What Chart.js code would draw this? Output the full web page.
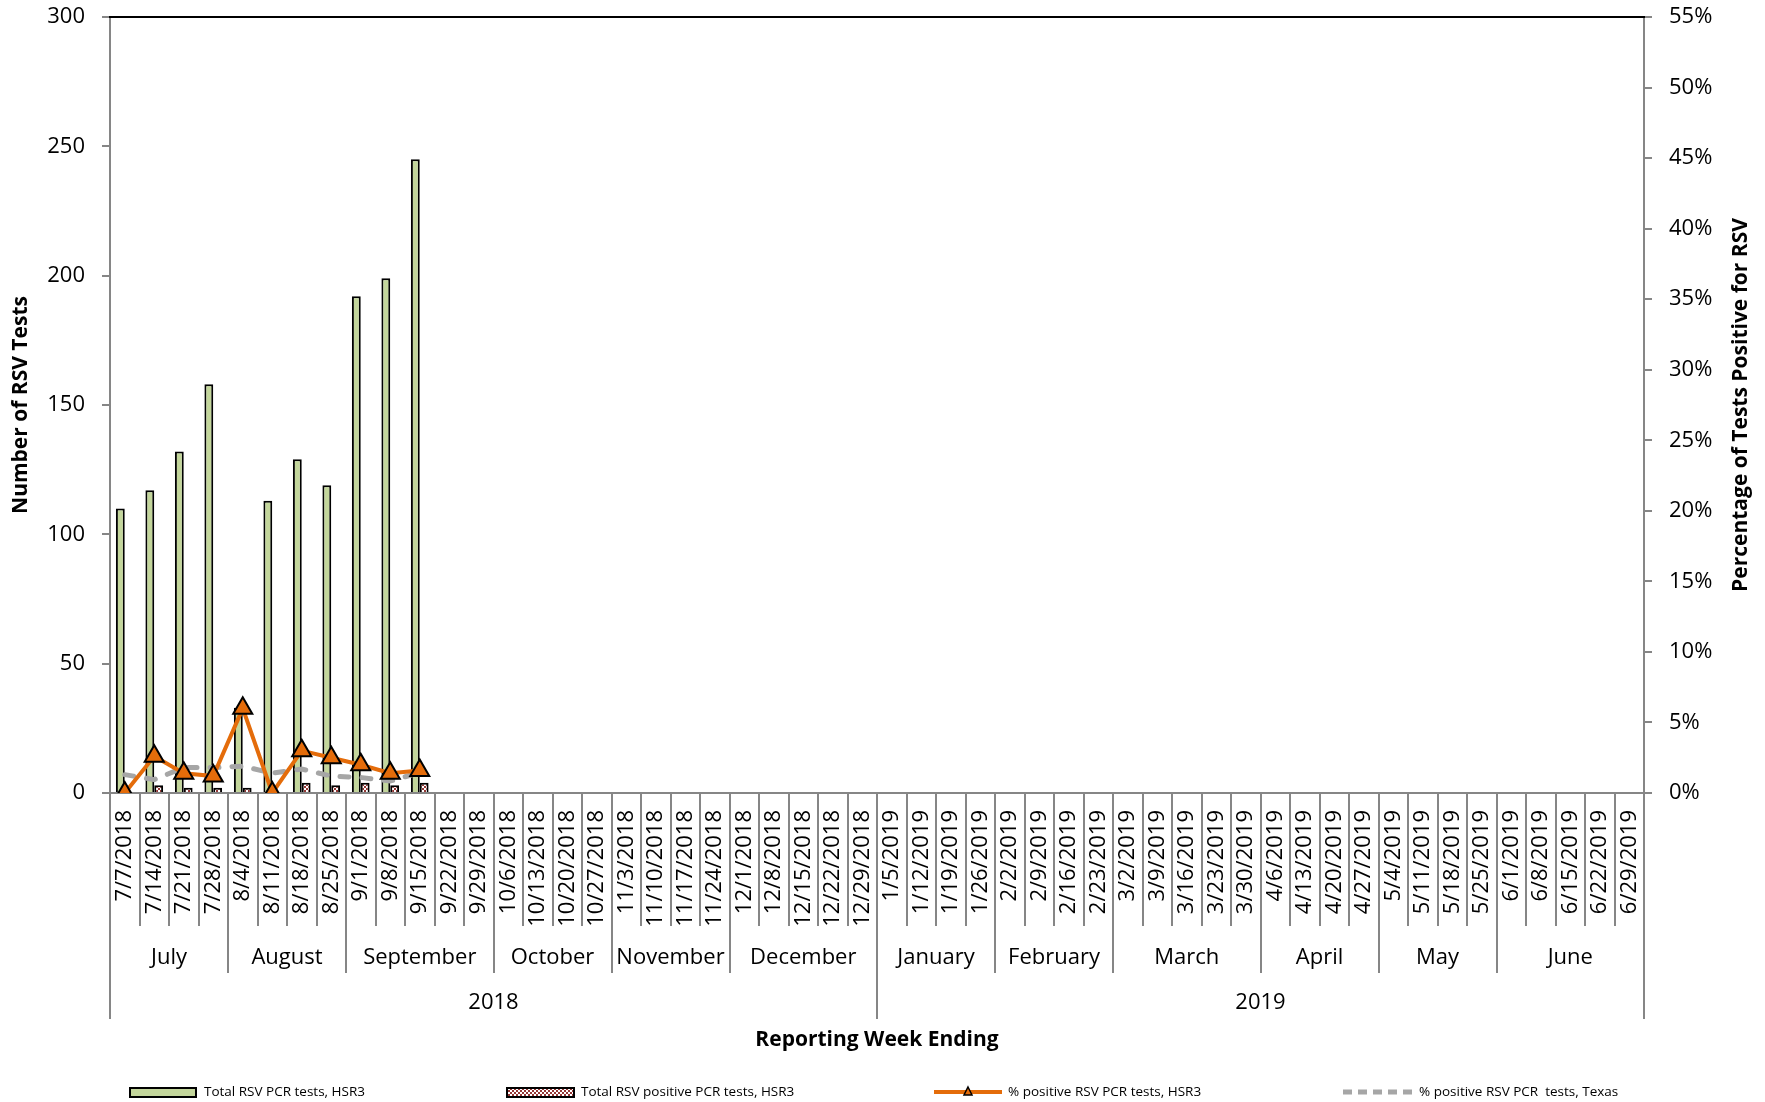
<!DOCTYPE html>
<html>
<head>
<meta charset="utf-8">
<title>RSV PCR tests, HSR3</title>
<script src="https://cdn.jsdelivr.net/npm/chart.js@4.4.1/dist/chart.umd.min.js"></script>
<style>
  html, body { margin: 0; padding: 0; background: #ffffff; }
  canvas { display: block; }
</style>
</head>
<body>
<canvas id="rsv" width="1765" height="1102"></canvas>
<script>
// Reporting weeks (week ending dates)
const weekLabels = [
  '7/7/2018','7/14/2018','7/21/2018','7/28/2018',
  '8/4/2018','8/11/2018','8/18/2018','8/25/2018',
  '9/1/2018','9/8/2018','9/15/2018','9/22/2018','9/29/2018',
  '10/6/2018','10/13/2018','10/20/2018','10/27/2018',
  '11/3/2018','11/10/2018','11/17/2018','11/24/2018',
  '12/1/2018','12/8/2018','12/15/2018','12/22/2018','12/29/2018',
  '1/5/2019','1/12/2019','1/19/2019','1/26/2019',
  '2/2/2019','2/9/2019','2/16/2019','2/23/2019',
  '3/2/2019','3/9/2019','3/16/2019','3/23/2019','3/30/2019',
  '4/6/2019','4/13/2019','4/20/2019','4/27/2019',
  '5/4/2019','5/11/2019','5/18/2019','5/25/2019',
  '6/1/2019','6/8/2019','6/15/2019','6/22/2019','6/29/2019'
];

// Month and year groupings of the weeks above
const monthNames = ['July','August','September','October','November','December',
                    'January','February','March','April','May','June'];
const monthWeekCounts = [4, 4, 5, 4, 4, 5, 4, 4, 5, 4, 4, 5];
const yearNames = ['2018', '2019'];
const yearWeekCounts = [26, 26];

// Weekly counts reported so far this season
const totalTests    = [110, 117, 132, 158, 33, 113, 129, 119, 192, 199, 245];
const positiveTests = [0, 3, 2, 2, 2, 0, 4, 3, 4, 3, 4];

// Percent positive
const pctPositiveHSR3  = [0, 2.6, 1.4, 1.2, 6.0, 0, 3.0, 2.5, 2.0, 1.4, 1.6];
const pctPositiveTexas = [1.3, 0.95, 1.8, 1.8, 1.9, 1.4, 1.7, 1.2, 1.1, 0.85, 1.45];

// Axis tick ranges
const countTicks = { min: 0, max: 300, step: 50 };
const pctTicks   = { min: 0, max: 55, step: 5 };

const FONT = "'Open Sans', 'Noto Sans', sans-serif";
const AXIS_GRAY = '#868686';
const GREEN = '#C3D69B';
const ORANGE = '#E46C0A';
const TEXAS_GRAY = '#A6A6A6';
const DARK_RED = '#953735';

// small checkered fill for the positive-test bars
function makeCheckerPattern(ctx) {
  const c = document.createElement('canvas');
  c.width = 4; c.height = 4;
  const p = c.getContext('2d');
  p.fillStyle = DARK_RED;
  p.fillRect(0, 0, 4, 4);
  p.fillStyle = '#ffffff';
  p.fillRect(0, 0, 2, 2);
  p.fillRect(2, 2, 2, 2);
  return ctx.createPattern(c, 'repeat');
}

const canvas = document.getElementById('rsv');
const ctx = canvas.getContext('2d');
const checker = makeCheckerPattern(ctx);

// keep the plot area exactly where the fixed-size axes put it
function noScalePadding(scale) {
  scale.paddingTop = 0;
  scale.paddingBottom = 0;
  scale.paddingLeft = 0;
  scale.paddingRight = 0;
}

// Draws the grouped category labels, separators, axis titles and legend
const decorations = {
  id: 'decorations',
  afterDraw(chart) {
    const g = chart.ctx;
    const area = chart.chartArea;
    const x = chart.scales.x;
    const n = weekLabels.length;
    const boundary = (i) => {
      if (i <= 0) return area.left;
      if (i >= n) return area.right;
      return (x.getPixelForTick(i - 1) + x.getPixelForTick(i)) / 2;
    };
    const axisY = area.bottom;
    const weekBottom = axisY + 133;
    const monthBottom = axisY + 180;
    const yearBottom = axisY + 226;

    g.save();

    // top edge of the plot area
    g.strokeStyle = '#000000';
    g.lineWidth = 2;
    g.beginPath();
    g.moveTo(area.left - 1, area.top);
    g.lineTo(area.right + 1, area.top);
    g.stroke();

    // separators between weeks, months and years
    const monthEdges = new Set();
    let acc = 0;
    monthWeekCounts.forEach(c => { acc += c; monthEdges.add(acc); });
    const yearEdges = new Set([0, n]);
    acc = 0;
    yearWeekCounts.forEach(c => { acc += c; yearEdges.add(acc); });

    g.strokeStyle = AXIS_GRAY;
    g.lineWidth = 2;
    for (let i = 0; i <= n; i++) {
      let bottom = weekBottom;
      if (monthEdges.has(i)) bottom = monthBottom;
      if (yearEdges.has(i)) bottom = yearBottom;
      const px = Math.round(boundary(i));
      g.beginPath();
      g.moveTo(px, axisY);
      g.lineTo(px, bottom);
      g.stroke();
    }

    g.fillStyle = '#000000';
    g.textAlign = 'center';
    g.textBaseline = 'middle';

    // month labels
    g.font = `22px ${FONT}`;
    acc = 0;
    monthNames.forEach((m, k) => {
      const a = boundary(acc), b = boundary(acc + monthWeekCounts[k]);
      g.fillText(m, (a + b) / 2, axisY + 165);
      acc += monthWeekCounts[k];
    });

    // year labels
    acc = 0;
    yearNames.forEach((yname, k) => {
      const a = boundary(acc), b = boundary(acc + yearWeekCounts[k]);
      g.fillText(yname, (a + b) / 2, axisY + 210);
      acc += yearWeekCounts[k];
    });

    // axis titles
    g.font = `bold 21px ${FONT}`;
    g.fillText('Reporting Week Ending', (area.left + area.right) / 2, axisY + 247);

    const midY = (area.top + area.bottom) / 2;
    g.save();
    g.translate(21, midY);
    g.rotate(-Math.PI / 2);
    g.fillText('Number of RSV Tests', 0, 0);
    g.restore();

    g.save();
    g.translate(1741, midY);
    g.rotate(-Math.PI / 2);
    g.fillText('Percentage of Tests Positive for RSV', 0, 0);
    g.restore();

    // legend
    const ly = 1092;
    g.font = `13.5px ${FONT}`;
    g.textAlign = 'left';
    g.textBaseline = 'middle';

    // total tests
    g.fillStyle = GREEN;
    g.fillRect(130, ly - 4, 66, 9);
    g.strokeStyle = '#000';
    g.lineWidth = 2;
    g.strokeRect(130, ly - 4, 66, 9);
    g.fillStyle = '#000';
    g.fillText(chart.data.datasets[0].label, 204, ly);

    // positive tests
    g.fillStyle = checker;
    g.fillRect(507, ly - 4, 67, 9);
    g.strokeStyle = '#000';
    g.strokeRect(507, ly - 4, 67, 9);
    g.fillStyle = '#000';
    g.fillText(chart.data.datasets[1].label, 581, ly);

    // HSR3 percent line
    g.strokeStyle = ORANGE;
    g.lineWidth = 4;
    g.beginPath();
    g.moveTo(934, ly);
    g.lineTo(1002, ly);
    g.stroke();
    g.fillStyle = ORANGE;
    g.strokeStyle = '#000';
    g.lineWidth = 1.5;
    g.beginPath();
    g.moveTo(968, ly - 5);
    g.lineTo(972, ly + 3);
    g.lineTo(964, ly + 3);
    g.closePath();
    g.fill();
    g.stroke();
    g.fillStyle = '#000';
    g.fillText(chart.data.datasets[2].label, 1008, ly);

    // Texas percent line
    g.strokeStyle = TEXAS_GRAY;
    g.lineWidth = 5;
    g.setLineDash([9, 6]);
    g.beginPath();
    g.moveTo(1343, ly);
    g.lineTo(1413, ly);
    g.stroke();
    g.setLineDash([]);
    g.fillStyle = '#000';
    g.fillText(chart.data.datasets[3].label, 1419, ly);

    g.restore();
  }
};

const tickFont = { family: FONT, size: 22 };

new Chart(ctx, {
  data: {
    labels: weekLabels,
    datasets: [
      {
        type: 'bar',
        label: 'Total RSV PCR tests, HSR3',
        data: totalTests,
        yAxisID: 'y',
        backgroundColor: GREEN,
        borderColor: '#000000',
        borderWidth: 2,
        categoryPercentage: 0.6,
        barPercentage: 1.0,
        order: 2
      },
      {
        type: 'bar',
        label: 'Total RSV positive PCR tests, HSR3',
        data: positiveTests,
        yAxisID: 'y',
        backgroundColor: checker,
        borderColor: '#000000',
        borderWidth: 2,
        categoryPercentage: 0.6,
        barPercentage: 1.0,
        order: 3
      },
      {
        type: 'line',
        label: '% positive RSV PCR tests, HSR3',
        data: pctPositiveHSR3,
        yAxisID: 'y1',
        borderColor: ORANGE,
        borderWidth: 4,
        tension: 0,
        pointStyle: 'triangle',
        pointRadius: 11,
        pointBackgroundColor: ORANGE,
        pointBorderColor: '#000000',
        pointBorderWidth: 2,
        order: 0
      },
      {
        type: 'line',
        label: '% positive RSV PCR  tests, Texas',
        data: pctPositiveTexas,
        yAxisID: 'y1',
        borderColor: TEXAS_GRAY,
        borderWidth: 5,
        borderDash: [9, 13],
        borderCapStyle: 'round',
        tension: 0,
        pointRadius: 0,
        order: 1
      }
    ]
  },
  options: {
    responsive: false,
    animation: false,
    devicePixelRatio: 1,
    layout: { padding: { top: 17, left: 0, right: 0, bottom: 0 } },
    plugins: {
      legend: { display: false },
      tooltip: { enabled: false }
    },
    scales: {
      x: {
        type: 'category',
        offset: true,
        grid: { display: false, drawTicks: false },
        border: { display: true, color: AXIS_GRAY, width: 2 },
        ticks: {
          autoSkip: false,
          minRotation: 90,
          maxRotation: 90,
          padding: 17,
          color: '#000000',
          font: tickFont
        },
        afterFit(scale) { scale.height = 309; noScalePadding(scale); }
      },
      y: {
        position: 'left',
        min: countTicks.min,
        max: countTicks.max,
        ticks: { stepSize: countTicks.step, padding: 17, color: '#000000', font: tickFont },
        grid: { drawOnChartArea: false, color: AXIS_GRAY, lineWidth: 2, tickLength: 8 },
        border: { display: true, color: AXIS_GRAY, width: 2 },
        afterFit(scale) { scale.width = 110; noScalePadding(scale); }
      },
      y1: {
        position: 'right',
        min: pctTicks.min,
        max: pctTicks.max,
        ticks: {
          stepSize: pctTicks.step,
          padding: 17,
          color: '#000000',
          font: tickFont,
          callback: (v) => v + '%'
        },
        grid: { drawOnChartArea: false, color: AXIS_GRAY, lineWidth: 2, tickLength: 8 },
        border: { display: true, color: AXIS_GRAY, width: 2 },
        afterFit(scale) { scale.width = 121; noScalePadding(scale); }
      }
    }
  },
  plugins: [decorations]
});
</script>
</body>
</html>
